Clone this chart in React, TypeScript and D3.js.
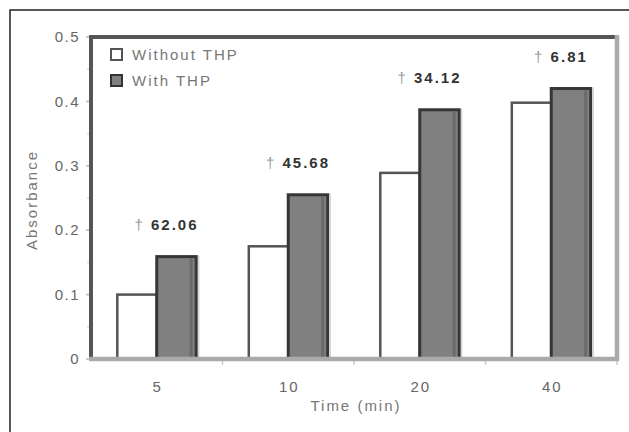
import React from "react";
import * as d3 from "d3";

const categories = ["5", "10", "20", "40"];
const seriesNames = ["Without THP", "With THP"];
const withoutTHP = [0.1, 0.175, 0.289, 0.398];
const withTHP = [0.159, 0.255, 0.387, 0.42];
const annotations = ["62.06", "45.68", "34.12", "6.81"];
const yTicks = [0, 0.1, 0.2, 0.3, 0.4, 0.5];
const yMinorTicks = [0.05, 0.15, 0.25, 0.35, 0.45];

const W = 629;
const H = 432;
const left = 91;
const right = 617;
const top = 37;
const bottom = 359;
const font = "'Liberation Sans', Arial, sans-serif";

export default function App() {
  const x = d3.scaleBand<string>().domain(categories).range([left, right]).paddingInner(0.4).paddingOuter(0.2);
  const xOuter = d3.scaleBand<string>().domain(categories).range([left, right]);
  const y = d3.scaleLinear().domain([0, 0.5]).range([bottom, top]);
  const sub = d3.scaleBand<string>().domain(seriesNames).range([0, x.bandwidth()]);
  const bw = sub.bandwidth();

  return (
    <svg width={W} height={H} style={{ position: "absolute", left: 0, top: 0, background: "#fff" }} fontFamily={font}>
      {/* outer frame */}
      <rect x={10} y={10} width={700} height={600} fill="none" stroke="#222" strokeWidth={1.5} />

      {/* y ticks */}
      {yTicks.map((t) => (
        <g key={"yt" + t}>
          <line x1={86} x2={91} y1={y(t)} y2={y(t)} stroke="#bbb" strokeWidth={1.5} />
          <text x={80} y={y(t)} dy="0.35em" textAnchor="end" fontSize={15} letterSpacing={1.5} fill="#666">
            {t === 0 ? "0" : d3.format(".1f")(t)}
          </text>
        </g>
      ))}
      {yMinorTicks.map((t) => (
        <line key={"ym" + t} x1={87} x2={91} y1={y(t)} y2={y(t)} stroke="#ddd" strokeWidth={1.5} />
      ))}

      {/* x ticks at category boundaries */}
      {categories.map((c) => (
        <line key={"xt" + c} x1={(xOuter(c) as number) + xOuter.bandwidth()} x2={(xOuter(c) as number) + xOuter.bandwidth()} y1={bottom} y2={bottom + 6} stroke="#ccc" strokeWidth={1.5} />
      ))}

      {/* bars */}
      {categories.map((c, i) => {
        const x0 = x(c) as number;
        const xa = x0 + (sub("Without THP") as number);
        const xb = x0 + (sub("With THP") as number);
        return (
          <g key={"b" + c}>
            <rect x={xa} y={y(withoutTHP[i])} width={bw} height={bottom - y(withoutTHP[i])} fill="#fff" stroke="#555" strokeWidth={2.5} />
            <rect x={xb} y={y(withTHP[i])} width={bw} height={bottom - y(withTHP[i])} fill="#808080" stroke="#363636" strokeWidth={3} />
            <line x1={xb + bw - 5} x2={xb + bw - 5} y1={y(withTHP[i]) + 2} y2={bottom} stroke="#6a6a6a" strokeWidth={3} />
            <line x1={xb + bw + 2.5} x2={xb + bw + 2.5} y1={y(withTHP[i]) - 1} y2={bottom} stroke="#d4d4d4" strokeWidth={1.5} />
            <text x={xb + bw / 2 - 10} y={y(withTHP[i]) - 32} textAnchor="middle" fontSize={15} letterSpacing={2} dy="0.35em">
              <tspan fill="#999">†</tspan>
              <tspan fill="#333" fontWeight="bold">{" " + annotations[i]}</tspan>
            </text>
            <text x={(x0 + x.bandwidth() / 2) + 1} y={bottom + 28} textAnchor="middle" fontSize={15} letterSpacing={2} fill="#666" dy="0.35em">
              {c}
            </text>
          </g>
        );
      })}

      {/* plot frame */}
      <line x1={left} x2={right + 2} y1={top} y2={top} stroke="#555" strokeWidth={4} />
      <line x1={left} x2={left} y1={top - 2} y2={bottom} stroke="#555" strokeWidth={4} />
      <line x1={right} x2={right} y1={top - 2} y2={bottom + 2} stroke="#aaa" strokeWidth={4.5} />
      <line x1={left - 2} x2={right + 2} y1={bottom} y2={bottom} stroke="#aaa" strokeWidth={4.5} />

      {/* legend */}
      <rect x={111} y={49} width={11} height={11} fill="#fff" stroke="#555" strokeWidth={2} />
      <text x={132} y={55} dy="0.35em" fontSize={15} letterSpacing={2} fill="#777">{seriesNames[0]}</text>
      <rect x={111} y={75} width={11} height={11} fill="#808080" stroke="#333" strokeWidth={2} />
      <text x={132} y={81} dy="0.35em" fontSize={15} letterSpacing={2} fill="#777">{seriesNames[1]}</text>

      {/* axis titles */}
      <text transform={`translate(32,${(top + bottom) / 2 + 2}) rotate(-90)`} textAnchor="middle" dy="0.35em" fontSize={15} letterSpacing={2} fill="#777">
        Absorbance
      </text>
      <text x={(left + right) / 2 + 2} y={406} textAnchor="middle" dy="0.35em" fontSize={15} letterSpacing={2} fill="#777">
        Time (min)
      </text>
    </svg>
  );
}
